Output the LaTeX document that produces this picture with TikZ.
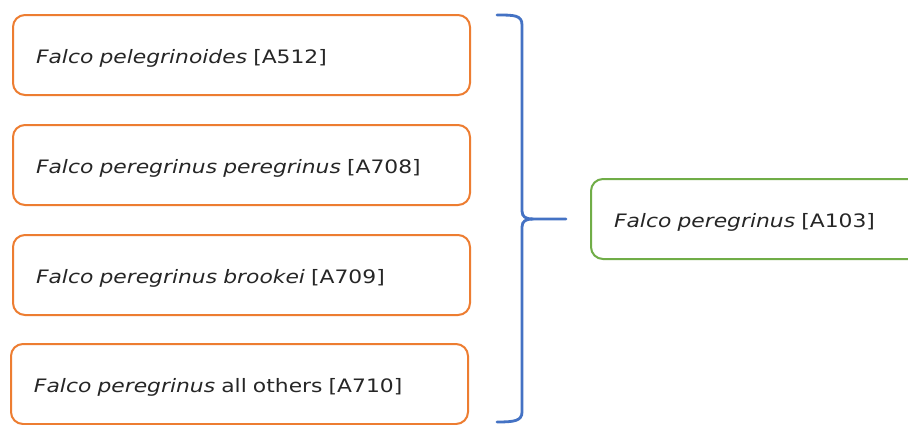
\documentclass[tikz,border=0pt]{standalone}
\usepackage{fontspec}
\setmainfont[FakeStretch=1.18]{DejaVu Sans}
\definecolor{boxorange}{HTML}{ED7D31}
\definecolor{boxgreen}{HTML}{70AD47}
\definecolor{braceblue}{HTML}{4472C4}
\definecolor{txt}{HTML}{262626}
\tikzset{
  sbox/.style={draw=boxorange, line width=2pt, rounded corners=12pt, anchor=north west,
    minimum width=457pt, minimum height=80pt, text width=411pt, align=left,
    inner xsep=23pt, inner ysep=0pt, text height=16pt, text depth=0pt,
    font=\fontsize{18.5}{22}\selectfont, text=txt},
  gbox/.style={sbox, draw=boxgreen, minimum width=360pt, text width=314pt},
  bracel/.style={draw=braceblue, line width=2.8pt, line cap=round, line join=round}
}
\begin{document}
\begin{tikzpicture}[x=1pt,y=-1pt]
\path[use as bounding box, clip] (0,0) rectangle (908,424);
\fill[white] (0,0) rectangle (908,424);
\node[sbox] (b1) at (12,14) {\textit{Falco pelegrinoides} [A512]};
\node[sbox] (b2) at (12,124) {\textit{Falco peregrinus peregrinus} [A708]};
\node[sbox] (b3) at (12,234) {\textit{Falco peregrinus brookei} [A709]};
\node[sbox] (b4) at (10,343) {\textit{Falco peregrinus} all others [A710]};
\node[gbox] (g) at (590,178) {\textit{Falco peregrinus} [A103]};
\coordinate (bt) at (497,15);
\coordinate (bb) at (497,422);
\coordinate (tip) at (566,219);
\draw[bracel] (bt) .. controls (514,15) and (522,15) .. (522,25) -- (522,211)
  .. controls (522,217) and (526,219) .. (533,219) -- (tip);
\draw[bracel] (533,219) .. controls (526,219) and (522,221) .. (522,227) -- (522,412)
  .. controls (522,421) and (514,422) .. (bb);
\end{tikzpicture}
\end{document}
